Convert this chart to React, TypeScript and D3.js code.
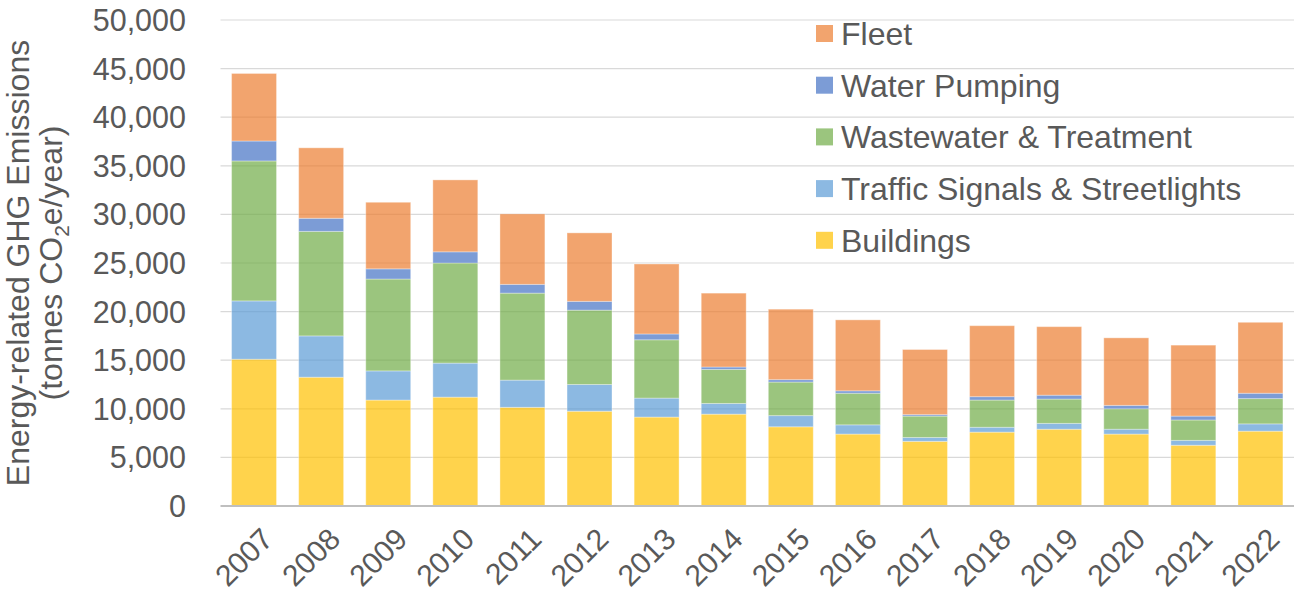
// Municipal GHG emissions stacked bar chart (D3 scales + JSX)
import React from 'react';
import * as d3 from 'd3';

const years = ['2007', '2008', '2009', '2010', '2011', '2012', '2013', '2014', '2015', '2016', '2017', '2018', '2019', '2020', '2021', '2022'];
const buildings = [15100, 13250, 10900, 11200, 10150, 9750, 9150, 9450, 8150, 7400, 6650, 7600, 7900, 7400, 6250, 7700];
const traffic = [6000, 4250, 3000, 3500, 2800, 2750, 1950, 1100, 1150, 950, 400, 500, 600, 500, 500, 750];
const wastewater = [14400, 10750, 9450, 10300, 8950, 7650, 6000, 3500, 3450, 3250, 2200, 2800, 2500, 2100, 2100, 2600];
const waterPumping = [2050, 1350, 1050, 1150, 900, 900, 600, 250, 250, 250, 150, 350, 400, 350, 400, 550];
const fleet = [6950, 7250, 6850, 7400, 7250, 7050, 7200, 7600, 7250, 7300, 6700, 7300, 7050, 6950, 7300, 7300];
const yTicks = [0, 5000, 10000, 15000, 20000, 25000, 30000, 35000, 40000, 45000, 50000];

const seriesKeys = ['buildings', 'traffic', 'wastewater', 'water', 'fleet'];
const seriesNames: Record<string, string> = {
  buildings: 'Buildings',
  traffic: 'Traffic Signals & Streetlights',
  wastewater: 'Wastewater & Treatment',
  water: 'Water Pumping',
  fleet: 'Fleet',
};
const colors: Record<string, string> = {
  buildings: '#FFC000',
  traffic: '#5B9BD5',
  wastewater: '#70AD47',
  water: '#4472C4',
  fleet: '#ED7D31',
};

const W = 1296;
const H = 599;
const margin = { top: 20, right: 2, bottom: 93, left: 220.5 };
const font = 'Arial, "Liberation Sans", sans-serif';
const textColor = '#595959';

const App = () => {
  const rows = years.map((y, i) => ({
    year: y,
    buildings: buildings[i],
    traffic: traffic[i],
    wastewater: wastewater[i],
    water: waterPumping[i],
    fleet: fleet[i],
  }));
  const stacked = d3.stack<any>().keys(seriesKeys)(rows);

  const x = d3.scaleBand()
    .domain(years)
    .range([margin.left, W - margin.right])
    .paddingInner(0.33)
    .paddingOuter(0.165);
  const y = d3.scaleLinear().domain([0, 50000]).range([H - margin.bottom, margin.top]);
  const fmt = d3.format(',');

  // legend order: top = Fleet
  const legendKeys = [...seriesKeys].reverse();
  const midY = (y(0) + y(50000)) / 2;

  return (
    <div style={{ position: 'absolute', left: 0, top: 0 }}>
      <svg width={W} height={H} style={{ display: 'block', background: '#fff' }}>
        {/* gridlines */}
        {yTicks.filter(t => t > 0).map(t => (
          <line key={t} x1={margin.left} x2={W - margin.right} y1={y(t)} y2={y(t)} stroke="#d9d9d9" strokeWidth={1.2} />
        ))}
        {/* y tick labels */}
        {yTicks.map(t => (
          <text key={t} x={186} y={y(t)} dy="0.36em" textAnchor="end" fontSize={30.5} fontFamily={font} fill={textColor}>
            {fmt(t)}
          </text>
        ))}
        {/* bars */}
        {stacked.map(s => (
          <g key={s.key} fill={colors[s.key]} fillOpacity={0.7}>
            {s.map((d, i) => (
              <rect
                key={i}
                x={x(years[i])}
                y={y(d[1])}
                width={x.bandwidth()}
                height={y(d[0]) - y(d[1])}
                stroke="#ffffff"
                strokeOpacity={0.35}
                strokeWidth={1}
              />
            ))}
          </g>
        ))}
        {/* x axis line */}
        <line x1={margin.left} x2={W - margin.right} y1={y(0)} y2={y(0)} stroke="#bfbfbf" strokeWidth={2} />
        {/* x tick labels */}
        {years.map(yr => {
          const cx = (x(yr) || 0) + x.bandwidth() / 2 + 6;
          const cy = y(0) + 20;
          return (
            <text key={yr} x={cx} y={cy} textAnchor="end" dy="0.7em" fontSize={30} fontFamily={font} fill={textColor}
              transform={`rotate(-45, ${cx}, ${cy})`}>
              {yr}
            </text>
          );
        })}
        {/* y axis title */}
        <text transform={`translate(29, ${midY}) rotate(-90)`} textAnchor="middle" fontSize={32} fontFamily={font} fill={textColor}>
          Energy-related GHG Emissions
        </text>
        <text transform={`translate(62, ${midY}) rotate(-90)`} textAnchor="middle" fontSize={32} fontFamily={font} fill={textColor}>
          (tonnes CO<tspan fontSize={21} dy="7">2</tspan><tspan dy="-7">e/year)</tspan>
        </text>
        {/* legend */}
        {legendKeys.map((k, i) => {
          const ly = 33.5 + i * 51.7;
          return (
            <g key={k}>
              <rect x={816} y={ly - 8.5} width={17} height={17} fill={colors[k]} fillOpacity={0.7} />
              <text x={841} y={ly} dy="0.36em" fontSize={32} fontFamily={font} fill={textColor}>
                {seriesNames[k]}
              </text>
            </g>
          );
        })}
      </svg>
    </div>
  );
};

export default App;
